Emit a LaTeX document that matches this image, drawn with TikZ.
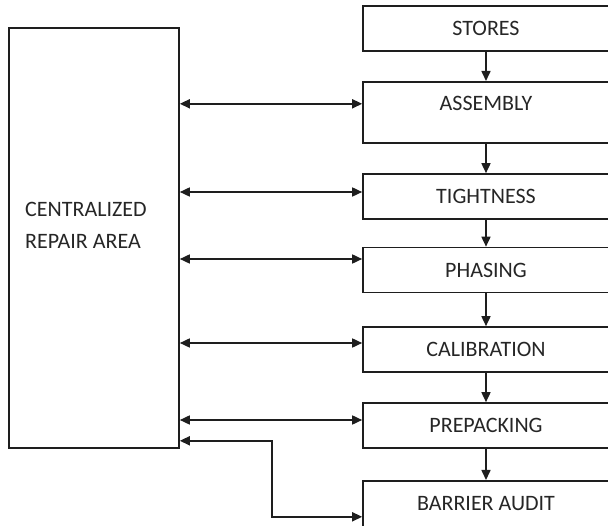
\documentclass[tikz,border=0pt]{standalone}
\usepackage{fontspec}
\setmainfont{Carlito}
\usetikzlibrary{arrows.meta}
\definecolor{inkgray}{HTML}{1E1E1E}
\definecolor{textgray}{HTML}{262626}
\tikzset{
  stepbox/.style={draw=inkgray, line width=1.6pt, minimum width=246pt, minimum height=45pt,
    inner sep=0pt, text=textgray, font=\fontsize{22}{32}\selectfont},
  flow/.style={-{Triangle[length=10pt,width=9pt]}, draw=inkgray, line width=1.6pt},
  twoway/.style={{Triangle[length=10pt,width=9pt]}-{Triangle[length=10pt,width=9pt]}, draw=inkgray, line width=1.6pt},
}
\begin{document}
\begin{tikzpicture}[x=1pt, y=-1pt]
    \useasboundingbox (0,0) rectangle (608,526);
    % repair area on the left
    \node[stepbox, minimum width=170pt, minimum height=420pt] (repair) at (94,238) {};
    \node[text=textgray, font=\fontsize{22}{32}\selectfont, align=left, anchor=north west, inner sep=0pt]
        (repairlabel) at (25,202) {CENTRALIZED\\REPAIR AREA};
    % line of steps
    \node[stepbox] (stores) at (486,28.5) {STORES};
    \node[stepbox, anchor=north, minimum height=0pt, text height=29pt, text depth=32pt] (assembly) at (486,81) {ASSEMBLY};
    \node[stepbox] (tightness) at (486,196.5) {TIGHTNESS};
    \node[stepbox] (phasing) at (486,270) {PHASING};
    \node[stepbox] (calibration) at (486,349.5) {CALIBRATION};
    \node[stepbox] (prepacking) at (486,425.5) {PREPACKING};
    \node[stepbox, anchor=north, minimum height=0pt, text height=30pt, text depth=42pt] (barrier) at (486,480) {BARRIER AUDIT};
    \foreach \a/\b in {stores/assembly, assembly/tightness, tightness/phasing, phasing/calibration,
                       calibration/prepacking, prepacking/barrier}
        \draw[flow] (\a.south) -- (\b.north);
    % links to the repair area
    \foreach \n/\dy in {assembly/8.5, tightness/4.5, phasing/11, calibration/6.5, prepacking/5.5} {
        \coordinate (\n-in) at ([yshift=\dy pt]\n.west);
        \draw[twoway] (\n-in -| repair.east) -- (\n-in);
    }
    \draw[twoway] ([yshift=8pt]repair.south east) -| ([xshift=-90pt]barrier.west) -- (barrier.west);
\end{tikzpicture}
\end{document}
